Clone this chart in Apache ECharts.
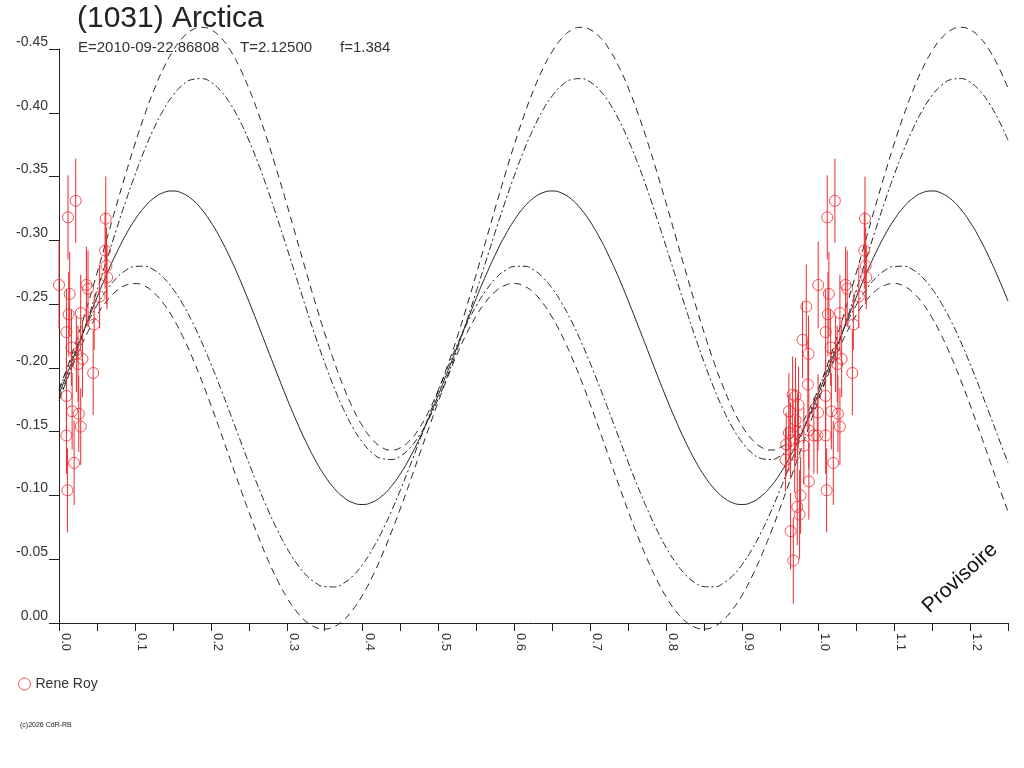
<!DOCTYPE html>
<html lang="fr">
<head>
<meta charset="UTF-8">
<script src="https://cdn.jsdelivr.net/npm/echarts@6/dist/echarts.min.js"></script>
<title>(1031) Arctica</title>
<style>html,body{margin:0;padding:0;background:#fff}#lc{width:1024px;height:768px}</style>
</head>
<body>
<div id="lc"></div>
<script>
// phase grid of the fitted curves
var phase = [0,0.0125,0.025,0.0375,0.05,0.0625,0.075,0.0875,0.1,0.1125,0.125,0.1375,0.15,0.1625,0.175,0.1875,0.2,0.2125,0.225,0.2375,
    0.25,0.2625,0.275,0.2875,0.3,0.3125,0.325,0.3375,0.35,0.3625,0.375,0.3875,0.4,0.4125,0.425,0.4375,0.45,0.4625,0.475,0.4875,
    0.5,0.5125,0.525,0.5375,0.55,0.5625,0.575,0.5875,0.6,0.6125,0.625,0.6375,0.65,0.6625,0.675,0.6875,0.7,0.7125,0.725,0.7375,
    0.75,0.7625,0.775,0.7875,0.8,0.8125,0.825,0.8375,0.85,0.8625,0.875,0.8875,0.9,0.9125,0.925,0.9375,0.95,0.9625,0.975,0.9875,
    1.0,1.0125,1.025,1.0375,1.05,1.0625,1.075,1.0875,1.1,1.1125,1.125,1.1375,1.15,1.1625,1.175,1.1875,1.2,1.2125,1.225,1.2375,1.25];

// fitted curve (solid)
var fitMid = [-0.1793,-0.1981,-0.2173,-0.2365,-0.2552,-0.2729,-0.2892,-0.3038,-0.3161,-0.3260,-0.3331,-0.3374,-0.3387,-0.3369,-0.3322,-0.3246,-0.3143,-0.3016,-0.2868,-0.2703,
    -0.2523,-0.2335,-0.2143,-0.1951,-0.1764,-0.1587,-0.1424,-0.1278,-0.1155,-0.1056,-0.0985,-0.0942,-0.0929,-0.0947,-0.0994,-0.1070,-0.1173,-0.1300,-0.1448,-0.1613,
    -0.1793,-0.1981,-0.2173,-0.2365,-0.2552,-0.2729,-0.2892,-0.3038,-0.3161,-0.3260,-0.3331,-0.3374,-0.3387,-0.3369,-0.3322,-0.3246,-0.3143,-0.3016,-0.2868,-0.2703,
    -0.2523,-0.2335,-0.2143,-0.1951,-0.1764,-0.1587,-0.1424,-0.1278,-0.1155,-0.1056,-0.0985,-0.0942,-0.0929,-0.0947,-0.0994,-0.1070,-0.1173,-0.1300,-0.1448,-0.1613,
    -0.1793,-0.1981,-0.2173,-0.2365,-0.2552,-0.2729,-0.2892,-0.3038,-0.3161,-0.3260,-0.3331,-0.3374,-0.3387,-0.3369,-0.3322,-0.3246,-0.3143,-0.3016,-0.2868,-0.2703,-0.2523];
// upper dashed
var fitHiDash = [-0.1833,-0.2030,-0.2250,-0.2490,-0.2742,-0.3001,-0.3261,-0.3514,-0.3755,-0.3978,-0.4177,-0.4347,-0.4484,-0.4585,-0.4648,-0.4670,-0.4651,-0.4592,-0.4495,-0.4360,
    -0.4193,-0.3996,-0.3776,-0.3536,-0.3284,-0.3025,-0.2765,-0.2512,-0.2271,-0.2048,-0.1849,-0.1679,-0.1542,-0.1441,-0.1378,-0.1356,-0.1375,-0.1434,-0.1531,-0.1666,
    -0.1833,-0.2030,-0.2250,-0.2490,-0.2742,-0.3001,-0.3261,-0.3514,-0.3755,-0.3978,-0.4177,-0.4347,-0.4484,-0.4585,-0.4648,-0.4670,-0.4651,-0.4592,-0.4495,-0.4360,
    -0.4193,-0.3996,-0.3776,-0.3536,-0.3284,-0.3025,-0.2765,-0.2512,-0.2271,-0.2048,-0.1849,-0.1679,-0.1542,-0.1441,-0.1378,-0.1356,-0.1375,-0.1434,-0.1531,-0.1666,
    -0.1833,-0.2030,-0.2250,-0.2490,-0.2742,-0.3001,-0.3261,-0.3514,-0.3755,-0.3978,-0.4177,-0.4347,-0.4484,-0.4585,-0.4648,-0.4670,-0.4651,-0.4592,-0.4495,-0.4360,-0.4193];
// upper dash-dot
var fitHiDot = [-0.1765,-0.1950,-0.2155,-0.2376,-0.2606,-0.2840,-0.3073,-0.3299,-0.3511,-0.3706,-0.3877,-0.4022,-0.4135,-0.4216,-0.4260,-0.4268,-0.4240,-0.4175,-0.4076,-0.3945,
    -0.3785,-0.3600,-0.3395,-0.3174,-0.2944,-0.2710,-0.2477,-0.2251,-0.2039,-0.1844,-0.1673,-0.1528,-0.1415,-0.1334,-0.1290,-0.1282,-0.1310,-0.1375,-0.1474,-0.1605,
    -0.1765,-0.1950,-0.2155,-0.2376,-0.2606,-0.2840,-0.3073,-0.3299,-0.3511,-0.3706,-0.3877,-0.4022,-0.4135,-0.4216,-0.4260,-0.4268,-0.4240,-0.4175,-0.4076,-0.3945,
    -0.3785,-0.3600,-0.3395,-0.3174,-0.2944,-0.2710,-0.2477,-0.2251,-0.2039,-0.1844,-0.1673,-0.1528,-0.1415,-0.1334,-0.1290,-0.1282,-0.1310,-0.1375,-0.1474,-0.1605,
    -0.1765,-0.1950,-0.2155,-0.2376,-0.2606,-0.2840,-0.3073,-0.3299,-0.3511,-0.3706,-0.3877,-0.4022,-0.4135,-0.4216,-0.4260,-0.4268,-0.4240,-0.4175,-0.4076,-0.3945,-0.3785];
// lower dashed
var fitLoDash = [-0.1741,-0.1936,-0.2116,-0.2276,-0.2412,-0.2521,-0.2600,-0.2647,-0.2661,-0.2642,-0.2590,-0.2506,-0.2393,-0.2253,-0.2089,-0.1907,-0.1710,-0.1503,-0.1290,-0.1079,
    -0.0873,-0.0678,-0.0498,-0.0338,-0.0202,-0.0093,-0.0014,0.0033,0.0047,0.0028,-0.0024,-0.0108,-0.0221,-0.0361,-0.0525,-0.0707,-0.0904,-0.1111,-0.1324,-0.1535,
    -0.1741,-0.1936,-0.2116,-0.2276,-0.2412,-0.2521,-0.2600,-0.2647,-0.2661,-0.2642,-0.2590,-0.2506,-0.2393,-0.2253,-0.2089,-0.1907,-0.1710,-0.1503,-0.1290,-0.1079,
    -0.0873,-0.0678,-0.0498,-0.0338,-0.0202,-0.0093,-0.0014,0.0033,0.0047,0.0028,-0.0024,-0.0108,-0.0221,-0.0361,-0.0525,-0.0707,-0.0904,-0.1111,-0.1324,-0.1535,
    -0.1741,-0.1936,-0.2116,-0.2276,-0.2412,-0.2521,-0.2600,-0.2647,-0.2661,-0.2642,-0.2590,-0.2506,-0.2393,-0.2253,-0.2089,-0.1907,-0.1710,-0.1503,-0.1290,-0.1079,-0.0873];
// lower dash-dot
var fitLoDot = [-0.1824,-0.2012,-0.2189,-0.2350,-0.2491,-0.2608,-0.2700,-0.2763,-0.2795,-0.2797,-0.2768,-0.2708,-0.2620,-0.2505,-0.2367,-0.2208,-0.2032,-0.1845,-0.1650,-0.1452,
    -0.1256,-0.1068,-0.0891,-0.0730,-0.0589,-0.0472,-0.0380,-0.0317,-0.0285,-0.0283,-0.0312,-0.0372,-0.0460,-0.0575,-0.0713,-0.0872,-0.1048,-0.1235,-0.1430,-0.1628,
    -0.1824,-0.2012,-0.2189,-0.2350,-0.2491,-0.2608,-0.2700,-0.2763,-0.2795,-0.2797,-0.2768,-0.2708,-0.2620,-0.2505,-0.2367,-0.2208,-0.2032,-0.1845,-0.1650,-0.1452,
    -0.1256,-0.1068,-0.0891,-0.0730,-0.0589,-0.0472,-0.0380,-0.0317,-0.0285,-0.0283,-0.0312,-0.0372,-0.0460,-0.0575,-0.0713,-0.0872,-0.1048,-0.1235,-0.1430,-0.1628,
    -0.1824,-0.2012,-0.2189,-0.2350,-0.2491,-0.2608,-0.2700,-0.2763,-0.2795,-0.2797,-0.2768,-0.2708,-0.2620,-0.2505,-0.2367,-0.2208,-0.2032,-0.1845,-0.1650,-0.1452,-0.1256];

// observations (Rene Roy): phase, magnitude, error
var obsPhase = [0.9843,0.9794,0.9873,0.9864,0.9702,0.9614,0.9877,0.9614,0.9579,0.9811,0.9570,0.9877,0.9768,0.9724,0.9755,0.9636,0.9672,
    0.9663,0.9702,0.9741,0.9636,0.9729,0.9690,0.9998,0.9988,0.9943,
    1.0000,1.0119,1.0220,1.0616,1.0607,1.0625,1.0633,1.0361,1.0382,1.0141,1.0535,1.0128,1.0286,1.0098,1.0463,1.0164,1.0229,1.0309,1.0251,
    1.0450,1.0098,1.0173,1.0260,1.0286,1.0098,1.0199,1.0111];
var obsMag = [-0.248,-0.222,-0.211,-0.187,-0.178,-0.166,-0.151,-0.149,-0.140,-0.139,-0.128,-0.111,-0.100,-0.091,-0.085,-0.072,-0.049,
    -0.179,-0.159,-0.171,-0.143,-0.150,-0.132,-0.165,-0.147,-0.147,
    -0.265,-0.318,-0.331,-0.317,-0.292,-0.280,-0.271,-0.265,-0.262,-0.258,-0.256,-0.242,-0.243,-0.228,-0.234,-0.216,-0.211,-0.207,-0.203,
    -0.196,-0.178,-0.166,-0.164,-0.154,-0.147,-0.1255,-0.104];
var obsErr = [0.033,0.030,0.030,0.035,0.030,0.030,0.030,0.030,0.025,0.030,0.025,0.030,0.030,0.030,0.035,0.030,0.034,
    0.030,0.030,0.030,0.030,0.030,0.030,0.030,0.030,0.030,
    0.034,0.033,0.033,0.033,0.030,0.030,0.025,0.030,0.030,0.033,0.025,0.033,0.030,0.034,0.020,0.030,0.030,0.030,0.030,
    0.033,0.030,0.030,0.030,0.030,0.030,0.033,0.033];

var RED = '#ee2a2e';
var INK = '#222';
var FONT = 'Liberation Sans, Arial, sans-serif';

function curve(vals) {
    var res = [];
    for (var i = 0; i < phase.length; i++) res.push([phase[i], vals[i]]);
    return res;
}

// points are plotted once more one period earlier when they fall past phase 1
var obs = [];
for (var i = 0; i < obsPhase.length; i++) {
    obs.push([obsPhase[i], obsMag[i], obsErr[i]]);
    if (obsPhase[i] >= 1) obs.push([obsPhase[i] - 1, obsMag[i], obsErr[i]]);
}

function lineSeries(name, vals, type) {
    return {
        name: name,
        type: 'line',
        data: curve(vals),
        smooth: true,
        showSymbol: false,
        clip: false,
        silent: true,
        z: 2,
        lineStyle: {color: INK, width: 1, type: type}
    };
}

var chart = echarts.init(document.getElementById('lc'));
chart.setOption({
    animation: false,
    backgroundColor: '#fff',
    grid: {left: 59, right: 16, top: 49, bottom: 145},
    legend: {
        left: 18, top: 677, padding: 0,
        itemWidth: 12, itemHeight: 12, itemGap: 10,
        textStyle: {fontSize: 14, color: '#333', fontFamily: FONT},
        data: [{name: 'Rene Roy', icon: 'circle',
            itemStyle: {color: 'rgba(0,0,0,0)', borderColor: RED, borderWidth: 1}}]
    },
    xAxis: {
        type: 'value', min: 0, max: 1.25, interval: 0.05,
        splitLine: {show: false},
        axisLine: {onZero: false, lineStyle: {color: INK, width: 1}},
        axisTick: {length: 8, lineStyle: {color: INK}},
        axisLabel: {
            rotate: -90, margin: 10, verticalAlign: 'bottom',
            fontSize: 13, color: '#333', fontFamily: FONT,
            formatter: function (v) {
                return Math.round(v * 20) % 2 === 0 ? v.toFixed(1) : '';
            }
        }
    },
    yAxis: {
        type: 'value', inverse: true, min: -0.45, max: 0, interval: 0.05,
        splitLine: {show: false},
        axisLine: {show: true, lineStyle: {color: INK, width: 1}},
        axisTick: {show: true, length: 10, lineStyle: {color: INK}},
        axisLabel: {
            margin: 11, verticalAlign: 'bottom',
            fontSize: 14, color: '#333', fontFamily: FONT,
            formatter: function (v) { return v.toFixed(2); }
        }
    },
    graphic: [
        {type: 'text', left: 77, top: 4, style: {text: '(1031) Arctica', fontSize: 30, fill: INK, fontFamily: FONT}},
        {type: 'text', x: 78, y: 48, style: {text: 'E=2010-09-22.86808', fontSize: 15, fill: '#333', fontFamily: FONT, verticalAlign: 'middle'}},
        {type: 'text', x: 240, y: 48, style: {text: 'T=2.12500', fontSize: 15, fill: '#333', fontFamily: FONT, verticalAlign: 'middle'}},
        {type: 'text', x: 340, y: 48, style: {text: 'f=1.384', fontSize: 15, fill: '#333', fontFamily: FONT, verticalAlign: 'middle'}},
        {type: 'text', x: 960, y: 578, rotation: 0.74, style: {text: 'Provisoire', fontSize: 21, fill: '#111', fontFamily: FONT, align: 'center', verticalAlign: 'middle'}},
        {type: 'text', x: 20, y: 725, style: {text: '(c)2026 CdR-RB', fontSize: 7, fill: '#222', fontFamily: FONT, verticalAlign: 'middle'}}
    ],
    series: [
        lineSeries('fit', fitMid, 'solid'),
        lineSeries('hiDash', fitHiDash, [7, 5]),
        lineSeries('hiDot', fitHiDot, [7, 3, 2, 3]),
        lineSeries('loDash', fitLoDash, [7, 5]),
        lineSeries('loDot', fitLoDot, [7, 3, 2, 3]),
        {
            name: 'errors',
            type: 'custom',
            data: obs,
            silent: true,
            z: 3,
            encode: {x: 0, y: 1},
            renderItem: function (params, api) {
                var x = api.value(0), m = api.value(1), e = api.value(2);
                var a = api.coord([x, m - e]);
                var b = api.coord([x, m + e]);
                return {type: 'line', shape: {x1: a[0], y1: a[1], x2: b[0], y2: b[1]},
                    style: {stroke: RED, lineWidth: 1}};
            }
        },
        {
            name: 'Rene Roy',
            type: 'scatter',
            data: obs,
            symbol: 'circle',
            symbolSize: 11,
            z: 4,
            itemStyle: {color: 'rgba(0,0,0,0)', borderColor: RED, borderWidth: 1}
        }
    ]
});
</script>
</body>
</html>
